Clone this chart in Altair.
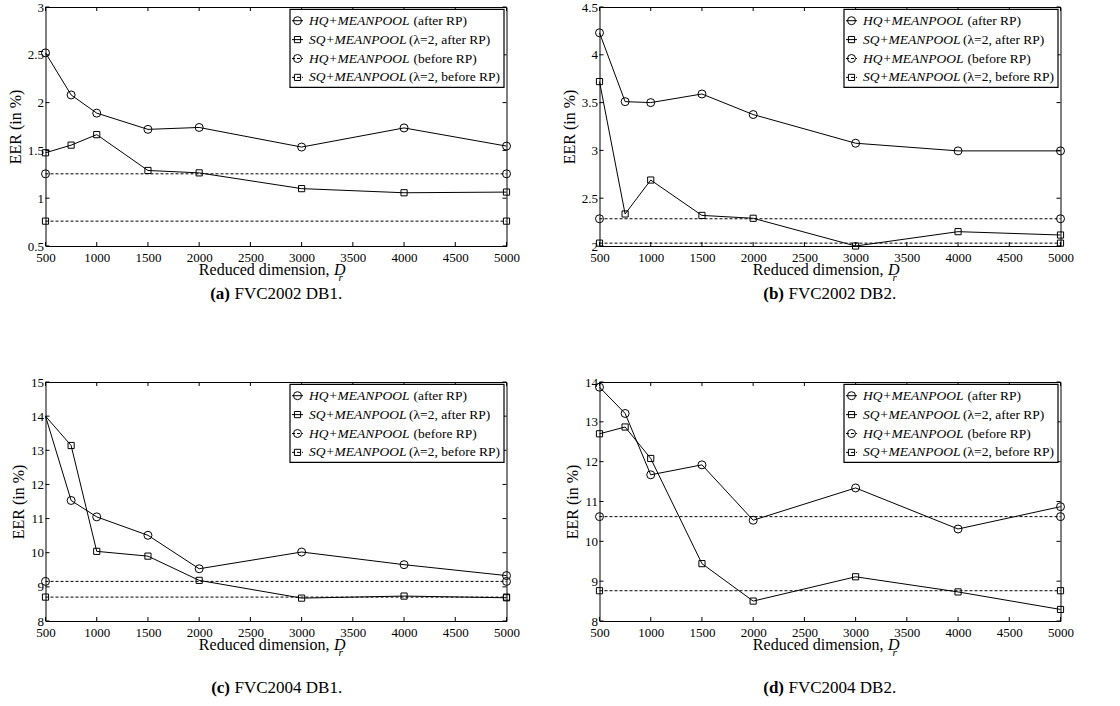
import altair as alt
import pandas as pd

# ---------------- data ----------------
dims = [500, 750, 1000, 1500, 2000, 3000, 4000, 5000]
x_ticks = [500, 1000, 1500, 2000, 2500, 3000, 3500, 4000, 4500, 5000]

a_hq_after = [2.52, 2.08, 1.89, 1.72, 1.74, 1.535, 1.735, 1.545]
a_sq_after = [1.475, 1.555, 1.665, 1.29, 1.265, 1.10, 1.057, 1.064]
a_hq_before = 1.255
a_sq_before = 0.76
a_yticks = [0.5, 1, 1.5, 2, 2.5, 3]

b_hq_after = [4.23, 3.51, 3.50, 3.59, 3.375, 3.075, 2.995, 2.995]
b_sq_after = [3.72, 2.335, 2.69, 2.32, 2.29, 2.0, 2.15, 2.115]
b_hq_before = 2.285
b_sq_before = 2.03
b_yticks = [2, 2.5, 3, 3.5, 4, 4.5]

c_hq_after = [14.0, 11.53, 11.05, 10.51, 9.53, 10.02, 9.65, 9.33]
c_sq_after = [14.0, 13.14, 10.04, 9.90, 9.19, 8.67, 8.73, 8.68]
c_hq_before = 9.16
c_sq_before = 8.70
c_yticks = [8, 9, 10, 11, 12, 13, 14, 15]

d_hq_after = [13.87, 13.21, 11.67, 11.92, 10.53, 11.34, 10.31, 10.87]
d_sq_after = [12.70, 12.87, 12.08, 9.44, 8.50, 9.11, 8.73, 8.29]
d_hq_before = 10.62
d_sq_before = 8.76
d_yticks = [8, 9, 10, 11, 12, 13, 14]

legend_main = ["HQ+MEANPOOL", "SQ+MEANPOOL", "HQ+MEANPOOL", "SQ+MEANPOOL"]
legend_suffix = ["(after RP)", "(\u03bb=2, after RP)", "(before RP)", "(\u03bb=2, before RP)"]

x_title = "Reduced dimension,"
x_title_sym = "D"
x_title_sub = "r"
y_title = "EER (in %)"

captions_tag = ["(a)", "(b)", "(c)", "(d)"]
captions_name = ["FVC2002 DB1.", "FVC2002 DB2.", "FVC2004 DB1.", "FVC2004 DB2."]

# ---------------- style ----------------
W, H = 461, 239
FONT = "Liberation Serif"
BLACK = "black"


def one(**kw):
    return pd.DataFrame({k: [v] for k, v in kw.items()})


def build_panel(hq_after, sq_after, hq_before, sq_before, yticks, tag, name,
                cap_dy, skip_markers=()):
    xs = alt.Scale(domain=[500, 5000], nice=False, zero=False)
    ys = alt.Scale(domain=[yticks[0], yticks[-1]], nice=False, zero=False)
    xaxis = alt.Axis(values=x_ticks, format="d", title=None, ticks=False,
                     domain=False, grid=False, labelFlush=False,
                     labelOverlap=False, labelPadding=5, labelFont=FONT,
                     labelFontSize=13, labelColor=BLACK)
    yaxis = alt.Axis(values=yticks, format="~g", title=y_title, ticks=False,
                     domain=False, grid=False, labelFlush=False,
                     labelOverlap=False, labelPadding=2, labelFont=FONT,
                     labelFontSize=13, labelColor=BLACK, titleFont=FONT,
                     titleFontSize=16, titleFontWeight="normal",
                     titleColor=BLACK, titlePadding=4)
    X = alt.X("D:Q", scale=xs, axis=xaxis)
    Y = alt.Y("EER:Q", scale=ys, axis=yaxis)

    after = pd.DataFrame({
        "D": dims + dims,
        "EER": hq_after + sq_after,
        "s": ["hq"] * len(dims) + ["sq"] * len(dims),
    })
    before = pd.DataFrame({
        "D": [500, 5000, 500, 5000],
        "EER": [hq_before, hq_before, sq_before, sq_before],
        "s": ["hq", "hq", "sq", "sq"],
    })
    pts = pd.concat([after[~after["D"].isin(skip_markers)], before])

    layers = []
    layers.append(alt.Chart(after).mark_line(color=BLACK, strokeWidth=1)
                  .encode(x=X, y=Y, detail="s:N"))
    layers.append(alt.Chart(before).mark_line(color=BLACK, strokeWidth=1,
                                              strokeDash=[3, 2])
                  .encode(x=X, y=Y, detail="s:N"))
    layers.append(alt.Chart(pts[pts["s"] == "hq"])
                  .mark_point(shape="circle", size=64, filled=False,
                              color=BLACK, strokeWidth=1, opacity=1)
                  .encode(x=X, y=Y))
    layers.append(alt.Chart(pts[pts["s"] == "sq"])
                  .mark_point(shape="square", size=38, filled=False,
                              color=BLACK, strokeWidth=1, opacity=1)
                  .encode(x=X, y=Y))

    # inward ticks on all four sides
    xt = pd.DataFrame({"D": x_ticks})
    yt = pd.DataFrame({"EER": yticks})
    tl = 4
    layers.append(alt.Chart(xt).mark_rule(color=BLACK, strokeWidth=1)
                  .encode(x=X, y=alt.value(H), y2=alt.value(H - tl)))
    layers.append(alt.Chart(xt).mark_rule(color=BLACK, strokeWidth=1)
                  .encode(x=X, y=alt.value(0), y2=alt.value(tl)))
    layers.append(alt.Chart(yt).mark_rule(color=BLACK, strokeWidth=1)
                  .encode(y=Y, x=alt.value(0), x2=alt.value(tl)))
    layers.append(alt.Chart(yt).mark_rule(color=BLACK, strokeWidth=1)
                  .encode(y=Y, x=alt.value(W), x2=alt.value(W - tl)))

    # x axis title with italic D_r
    layers.append(alt.Chart(one(t=x_title))
                  .mark_text(align="right", baseline="alphabetic", font=FONT,
                             fontSize=16, color=BLACK)
                  .encode(x=alt.value(W / 2 + 53.5), y=alt.value(H + 29),
                          text="t:N"))
    layers.append(alt.Chart(one(t=x_title_sym))
                  .mark_text(align="left", baseline="alphabetic", font=FONT,
                             fontSize=16, fontStyle="italic", color=BLACK)
                  .encode(x=alt.value(W / 2 + 58), y=alt.value(H + 29),
                          text="t:N"))
    layers.append(alt.Chart(one(t=x_title_sub))
                  .mark_text(align="left", baseline="alphabetic", font=FONT,
                             fontSize=11, fontStyle="italic", color=BLACK)
                  .encode(x=alt.value(W / 2 + 62.5), y=alt.value(H + 35),
                          text="t:N"))

    # legend box
    LW = 214
    L = W - 2.5 - LW
    layers.append(alt.Chart(one(k=0))
                  .mark_rect(fill="white", stroke=BLACK, strokeWidth=1.2)
                  .encode(x=alt.value(L), x2=alt.value(L + LW),
                          y=alt.value(2.3), y2=alt.value(80.3)))
    for i in range(4):
        ry = 13.7 + i * 18.9
        dash = [3, 2] if i >= 2 else [1, 0]
        shape = "circle" if legend_main[i].startswith("H") else "square"
        size = 64 if shape == "circle" else 38
        layers.append(alt.Chart(one(k=i))
                      .mark_rule(color=BLACK, strokeWidth=1, strokeDash=dash)
                      .encode(x=alt.value(L + 2), x2=alt.value(L + 13),
                              y=alt.value(ry)))
        layers.append(alt.Chart(one(k=i))
                      .mark_point(shape=shape, size=size, filled=False,
                                  color=BLACK, strokeWidth=1, opacity=1)
                      .encode(x=alt.value(L + 7.5), y=alt.value(ry)))
        layers.append(alt.Chart(one(t=legend_main[i]))
                      .mark_text(align="left", baseline="middle", font=FONT,
                                 fontSize=13.5, fontStyle="italic",
                                 color=BLACK)
                      .encode(x=alt.value(L + 19), y=alt.value(ry),
                              text="t:N"))
        off = 123.5 if shape == "circle" else 119
        layers.append(alt.Chart(one(t=legend_suffix[i]))
                      .mark_text(align="left", baseline="middle", font=FONT,
                                 fontSize=13.5, color=BLACK)
                      .encode(x=alt.value(L + off), y=alt.value(ry),
                              text="t:N"))

    # caption
    layers.append(alt.Chart(one(t=tag))
                  .mark_text(align="right", baseline="alphabetic", font=FONT,
                             fontSize=17, fontWeight="bold", color=BLACK)
                  .encode(x=alt.value(W / 2 - 46), y=alt.value(H + cap_dy),
                          text="t:N"))
    layers.append(alt.Chart(one(t=name))
                  .mark_text(align="left", baseline="alphabetic", font=FONT,
                             fontSize=17, color=BLACK)
                  .encode(x=alt.value(W / 2 - 41.5), y=alt.value(H + cap_dy),
                          text="t:N"))

    return alt.layer(*layers).properties(width=W, height=H)


pa = build_panel(a_hq_after, a_sq_after, a_hq_before, a_sq_before, a_yticks,
                 captions_tag[0], captions_name[0], 53)
pb = build_panel(b_hq_after, b_sq_after, b_hq_before, b_sq_before, b_yticks,
                 captions_tag[1], captions_name[1], 53)
pc = build_panel(c_hq_after, c_sq_after, c_hq_before, c_sq_before, c_yticks,
                 captions_tag[2], captions_name[2], 72, skip_markers=(500,))
pd_ = build_panel(d_hq_after, d_sq_after, d_hq_before, d_sq_before, d_yticks,
                  captions_tag[3], captions_name[3], 72)

chart = alt.concat(
    pa, pb, pc, pd_, columns=2,
    spacing={"row": 136, "column": 93}, bounds="flush",
).properties(
    padding={"left": 6.5, "top": 0, "right": 5, "bottom": 5},
    background="white",
).configure_view(stroke=BLACK, strokeWidth=1)

chart.save("out.html", embed_options={"renderer": "svg", "actions": False})
